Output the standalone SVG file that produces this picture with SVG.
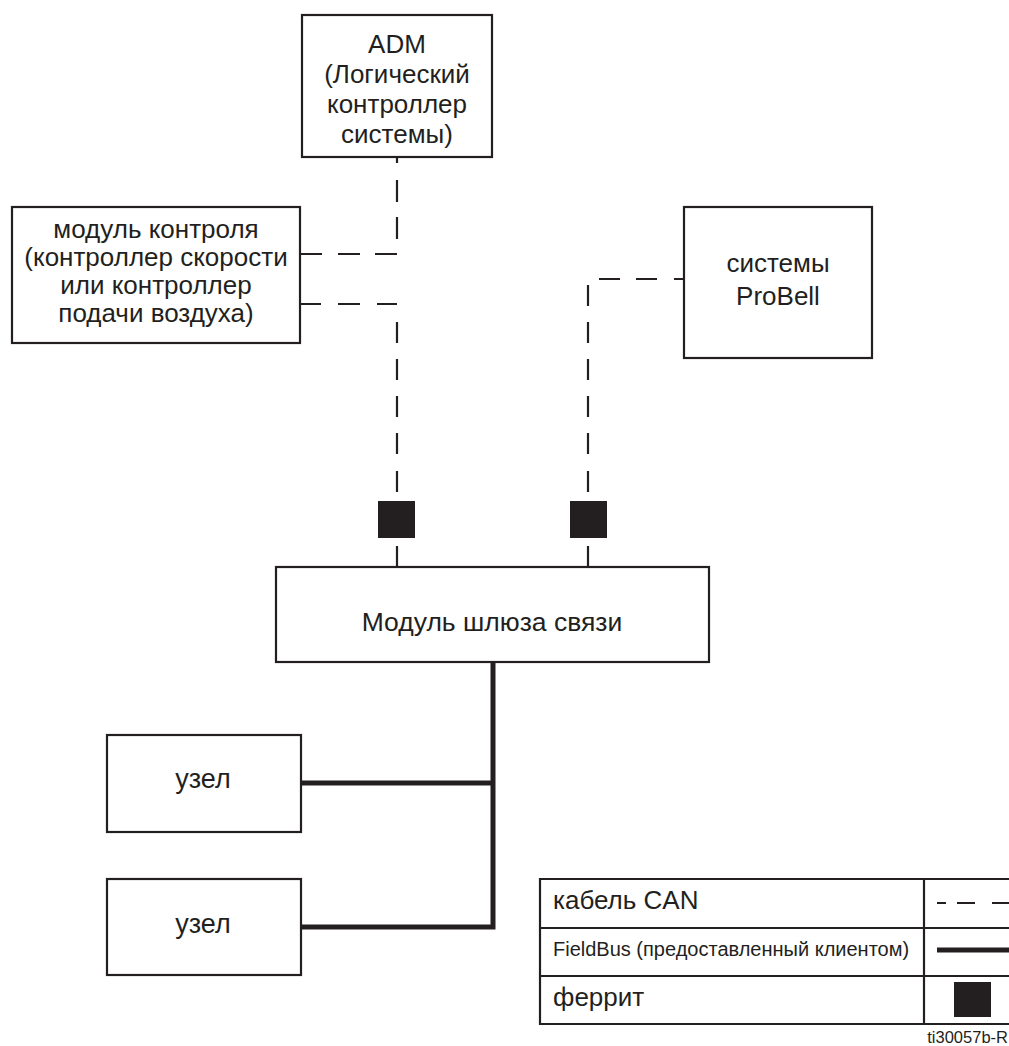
<svg xmlns="http://www.w3.org/2000/svg" width="1009" height="1046" viewBox="0 0 1009 1046">
<style>
.box{fill:#fff;stroke:#231f20;stroke-width:2.2}
.t{font-family:"Liberation Sans",Arial,sans-serif;font-size:26px;fill:#231f20;text-anchor:middle}
.tl{font-family:"Liberation Sans",Arial,sans-serif;fill:#231f20}
.can{fill:none;stroke:#231f20;stroke-width:2.2}
.fb{fill:none;stroke:#231f20;stroke-width:5}
.fer{fill:#231f20}
</style>
<rect width="1009" height="1046" fill="#fff"/>
<g id="connectors">
<path class="can" d="M397,157V163M397,180V202M397,217V239M375,254H397M338,254H360M300,254H322"/>
<path class="can" d="M300,304H321M338,304H360M377,304H397M397,322V343M397,359V380M397,396V417M397,433V454M397,471V492M397,546V567"/>
<path class="can" d="M684,279H674M657,279H636M620,279H599M588,285V306M588,322V343M588,359V380M588,396V417M588,433V454M588,471V492M588,546V567"/>
<path class="fb" d="M493,662V929.5M301,783H493M301,927H493"/>
<rect class="fer" x="378" y="501" width="37" height="37"/>
<rect class="fer" x="570" y="501" width="37" height="37"/>
</g>
<g id="adm">
<rect class="box" x="302" y="15" width="190" height="142"/>
<text class="t" x="397" y="53">ADM</text>
<text class="t" x="397" y="83">(Логический</text>
<text class="t" x="397" y="113">контроллер</text>
<text class="t" x="397" y="143">системы)</text>
</g>
<g id="control-module">
<rect class="box" x="12" y="207" width="288" height="136"/>
<text class="t" x="156" y="238">модуль контроля</text>
<text class="t" x="156" y="266">(контроллер скорости</text>
<text class="t" x="156" y="294">или контроллер</text>
<text class="t" x="156" y="322">подачи воздуха)</text>
</g>
<g id="probell">
<rect class="box" x="684" y="207" width="188" height="151"/>
<text class="t" x="778" y="272">системы</text>
<text class="t" x="778" y="305">ProBell</text>
</g>
<g id="gateway">
<rect class="box" x="276" y="567" width="433" height="95"/>
<text class="t" x="492" y="631" style="font-size:26.5px">Модуль шлюза связи</text>
</g>
<g id="node1">
<rect class="box" x="107" y="735" width="194" height="97"/>
<text class="t" x="203" y="788" style="font-size:27px">узел</text>
</g>
<g id="node2">
<rect class="box" x="107" y="879" width="194" height="96"/>
<text class="t" x="203" y="933" style="font-size:27px">узел</text>
</g>
<g id="legend">
<path fill="none" stroke="#231f20" stroke-width="2.2" d="M1012,879H540V1024H1012M540,928H1012M540,976H1012M924,879V1024"/>
<text class="tl" x="553" y="909" font-size="26">кабель CAN</text>
<text class="tl" x="553" y="956" font-size="20">FieldBus (предоставленный клиентом)</text>
<text class="tl" x="553" y="1006" font-size="26">феррит</text>
<path class="can" d="M937,903H946M957,903H975M992,903H1009"/>
<path class="fb" d="M937,950H1009"/>
<rect class="fer" x="954" y="982" width="37" height="35"/>
</g>
<text class="tl" x="1008" y="1043" font-size="16.5" text-anchor="end">ti30057b-R</text>
</svg>
